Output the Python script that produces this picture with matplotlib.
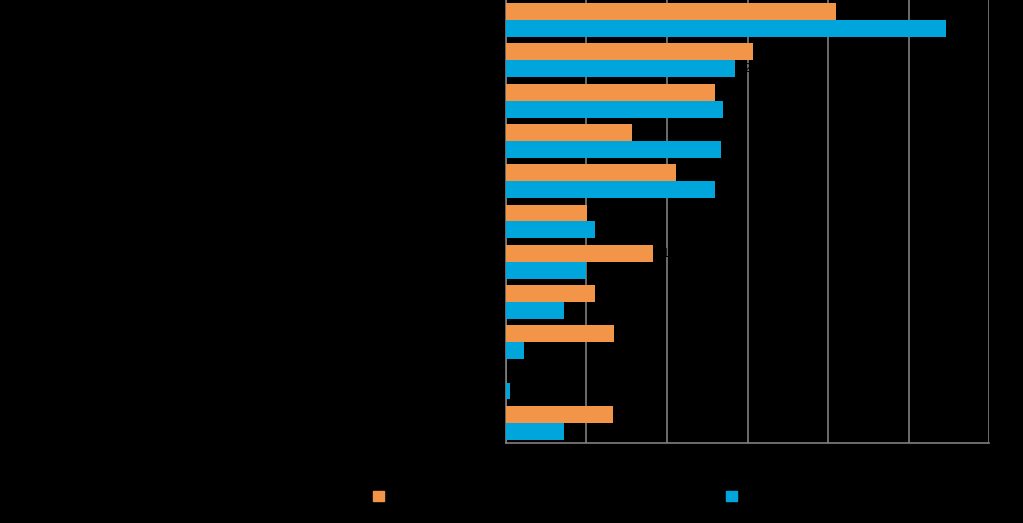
import matplotlib.pyplot as plt
from matplotlib.patches import Patch
import numpy as np

# ----------------------------------------------------------------------------
# Data (labels are black on black in the original)
# ----------------------------------------------------------------------------
categories = [
    "Category 1", "Category 2", "Category 3", "Category 4", "Category 5",
    "Category 6", "Category 7", "Category 8", "Category 9", "Category 10",
    "Category 11",
]
series_a = [41.0, 30.7, 26.0, 15.7, 21.1, 10.1, 18.3, 11.1, 13.4, 0.0, 13.3]
series_b = [54.7, 28.4, 26.9, 26.7, 26.0, 11.1, 10.0, 7.2, 2.2, 0.5, 7.2]
series_names = ["Series A", "Series B"]
x_ticks = [0, 10, 20, 30, 40, 50, 60]

# ----------------------------------------------------------------------------
# Plot settings
# ----------------------------------------------------------------------------
color_a = "#F39548"
color_b = "#00A5DC"
grid_color = "#7F7F7F"
bar_h = 0.42

fig = plt.figure(figsize=(10.23, 5.23), dpi=100, facecolor="black")
ax = fig.add_axes([0.4946, 0.153, 0.4722, 0.847])
ax.set_facecolor("black")

y = np.arange(len(categories))
ax.barh(y - bar_h / 2, series_a, height=bar_h, color=color_a, zorder=3)
ax.barh(y + bar_h / 2, series_b, height=bar_h, color=color_b, zorder=3)

# value labels (black, as in the original)
for i in range(len(categories)):
    ax.text(series_a[i] + 1, y[i] - bar_h / 2, f"{series_a[i]:.0f}",
            va="center", ha="left", fontsize=9, color="black", zorder=4)
    ax.text(series_b[i] + 1, y[i] + bar_h / 2, f"{series_b[i]:.0f}",
            va="center", ha="left", fontsize=9, color="black", zorder=4)

ax.set_xlim(0, 60)
ax.set_ylim(len(categories) - 0.5, -0.5)
ax.set_xticks(x_ticks)
ax.set_xticklabels([str(t) for t in x_ticks], color="black", fontsize=10)
ax.set_yticks(y)
ax.set_yticklabels(categories, color="black", fontsize=10)
ax.tick_params(axis="both", length=0)
ax.grid(True, axis="x", color=grid_color, linewidth=1.2, zorder=0)
ax.set_axisbelow(True)

for side in ["top", "right"]:
    ax.spines[side].set_visible(False)
for side in ["left", "bottom"]:
    ax.spines[side].set_color(grid_color)
    ax.spines[side].set_linewidth(1.2)

# legend entries placed separately, like the original
fig.legend(handles=[Patch(color=color_a, label=series_names[0])],
           loc="center left", bbox_to_anchor=(0.352, 0.050), frameon=False,
           handlelength=0.8, handleheight=0.8, fontsize=10, labelcolor="black")
fig.legend(handles=[Patch(color=color_b, label=series_names[1])],
           loc="center left", bbox_to_anchor=(0.697, 0.050), frameon=False,
           handlelength=0.8, handleheight=0.8, fontsize=10, labelcolor="black")

fig.savefig("out.png", dpi=100, facecolor="black")
